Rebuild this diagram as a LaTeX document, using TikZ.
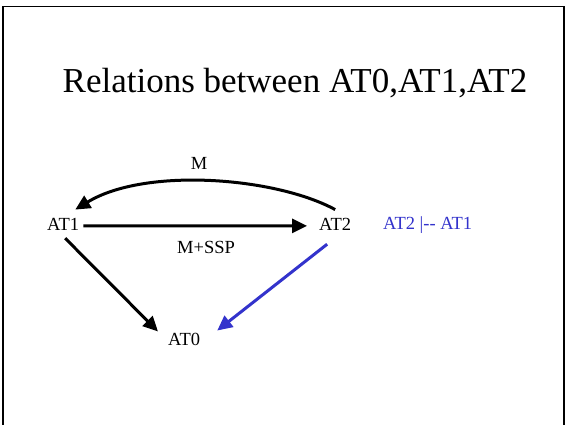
\documentclass[tikz,border=0pt]{standalone}
\usepackage{fontspec}
\setmainfont{Liberation Serif}
\usetikzlibrary{arrows.meta}
\definecolor{relblue}{RGB}{51,51,204}
\tikzset{
  lbl/.style={inner sep=0pt, font=\fontsize{18.5}{20}\selectfont},
  arr/.style={line width=3pt, -{Triangle[length=15pt,width=14pt]}},
  bluearr/.style={arr, draw=relblue}
}
\begin{document}
\begin{tikzpicture}[x=1pt,y=-1pt]
\useasboundingbox (0,0) rectangle (565,424);
\fill[white] (0,0) rectangle (565,424);
% frame
\draw[line width=1.3pt] (3,428) -- (3,6.5) -- (564,6.5) -- (564,428);
% title
\node[inner sep=0pt, anchor=base, font=\fontsize{35}{40}\selectfont] (title) at (295,92) {Relations between AT0,AT1,AT2};
% nodes
\node[lbl, anchor=base west] (AT1) at (47,230) {AT1};
\node[lbl, anchor=base west] (AT2) at (319,230) {AT2};
\node[lbl, anchor=base west] (AT0) at (168,345) {AT0};
\node[lbl, anchor=base west, text=relblue] (rel) at (383,229) {AT2 |-{}- AT1};
\node[lbl] (mlbl) at (199,163) {M};
\node[lbl] (msspl) at (206,247) {M+SSP};
% connectors
\draw[arr] ([yshift=8pt]AT2.north) .. controls (275,177) and (145,167) .. ([xshift=-4pt,yshift=8pt]AT1.north east);
\draw[arr] ([xshift=4pt,yshift=-2pt]AT1.east) -- ([xshift=-12pt,yshift=-2pt]AT2.west);
\draw[arr] ([xshift=2pt,yshift=-8pt]AT1.south) -- ([xshift=-10pt,yshift=1pt]AT0.north west);
\draw[bluearr] ([xshift=-8pt,yshift=-14pt]AT2.south) -- ([xshift=17pt,yshift=2pt]AT0.north east);
\end{tikzpicture}
\end{document}
